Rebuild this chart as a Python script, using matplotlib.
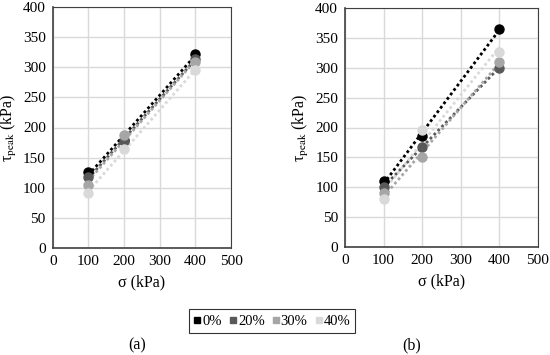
import numpy as np
import matplotlib
matplotlib.use("Agg")
import matplotlib.pyplot as plt
from matplotlib.lines import Line2D

plt.rcParams['font.family'] = ['Liberation Serif', 'DejaVu Serif']
plt.rcParams['mathtext.fontset'] = 'stix'

sigma = [100, 200, 400]
series = ['0%', '20%', '30%', '40%']
colors = ['#000000', '#595959', '#a6a6a6', '#d9d9d9']

tau_a = {
    '0%':  [126, 180, 322],
    '20%': [118, 178, 314],
    '30%': [105, 188, 308],
    '40%': [92, 165, 295],
}
tau_b = {
    '0%':  [110, 185, 365],
    '20%': [100, 168, 300],
    '30%': [90, 150, 310],
    '40%': [80, 195, 327],
}

xticks = [0, 100, 200, 300, 400, 500]
yticks = [0, 50, 100, 150, 200, 250, 300, 350, 400]

fig = plt.figure(figsize=(5.5, 3.55), dpi=100)
axA = fig.add_axes([52.7/550, 1-248/355, (231-52.7)/550, (248-7)/355])
axB = fig.add_axes([345/550, 1-247/355, (537.7-345)/550, (247-8)/355])

for ax, data in [(axA, tau_a), (axB, tau_b)]:
    ax.set_xlim(0, 500)
    ax.set_ylim(0, 400)
    ax.set_xticks(xticks)
    ax.set_yticks(yticks)
    ax.grid(True, color='#d9d9d9', linewidth=1.0)
    ax.set_axisbelow(True)
    for s, c in zip(series, colors):
        y = data[s]
        k, b = np.polyfit(sigma, y, 1)
        xs = np.array([sigma[0], sigma[-1]])
        ax.plot(xs, k*xs + b, linestyle=(0, (1, 1.0)), color=c, linewidth=2.0, zorder=3)
    for s, c in zip(series, colors):
        ax.plot(sigma, data[s], 'o', color=c, markersize=6.5, zorder=4, linestyle='none')
    ax.tick_params(axis='both', length=0, labelsize=11, pad=5)
    for sp in ['left', 'bottom']:
        ax.spines[sp].set_color('#404040')
        ax.spines[sp].set_linewidth(1.2)
    for sp in ['top', 'right']:
        ax.spines[sp].set_color('#404040')
        ax.spines[sp].set_linewidth(0.8)
    ax.set_xlabel('σ (kPa)', fontsize=11.5, labelpad=5)
    ax.set_ylabel(r'τ$_{\mathrm{peak}}$ (kPa)', fontsize=11.5, labelpad=3)

handles = [Line2D([], [], marker='s', color=c, linestyle='none', markersize=5) for c in colors]
leg = fig.legend(handles, series, loc='center', bbox_to_anchor=(272/550, 1-321/355),
                 ncol=4, frameon=True, fontsize=10.5, handlelength=0.5, handletextpad=0.1,
                 columnspacing=0.5, borderpad=0.35, fancybox=False)
leg.get_frame().set_edgecolor('#000000')
leg.get_frame().set_linewidth(0.8)

fig.text(137/550, 1-345/355, '(a)', ha='center', va='center', fontsize=11.5)
fig.text(412/550, 1-345/355, '(b)', ha='center', va='center', fontsize=11.5)

fig.savefig('out.png', dpi=100)
